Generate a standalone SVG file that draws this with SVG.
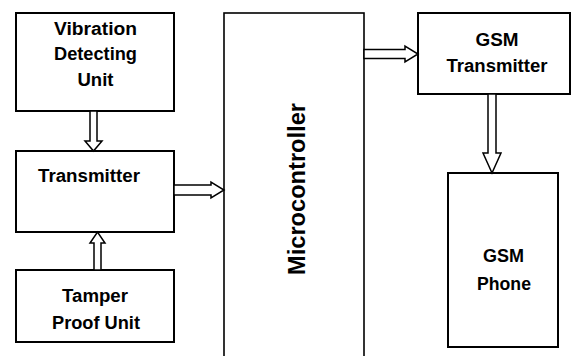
<svg xmlns="http://www.w3.org/2000/svg" width="572" height="356" viewBox="0 0 572 356">
<style>
.box{fill:#fff;stroke:#000;stroke-width:2}
.mc{fill:#fff;stroke:#000;stroke-width:1.6}
.arr{fill:#fff;stroke:#000;stroke-width:1.5;stroke-linejoin:miter}
text{font-family:"Liberation Sans",Arial,sans-serif;font-weight:bold;font-size:18px;fill:#000;text-anchor:middle}
.big{font-size:24px}
</style>
<rect width="572" height="356" fill="#fff"/>
<g id="vibration">
<rect class="box" x="16" y="13" width="158" height="98"/>
<text x="95.5" y="35" textLength="83" lengthAdjust="spacingAndGlyphs">Vibration</text>
<text x="95.5" y="60" textLength="83" lengthAdjust="spacingAndGlyphs">Detecting</text>
<text x="95.5" y="86" textLength="36" lengthAdjust="spacingAndGlyphs">Unit</text>
</g>
<g id="transmitter">
<rect class="box" x="16" y="151" width="158" height="81"/>
<text x="89" y="182" textLength="102" lengthAdjust="spacingAndGlyphs">Transmitter</text>
</g>
<g id="tamper">
<rect class="box" x="16" y="270" width="158" height="72"/>
<text x="95" y="302" textLength="66" lengthAdjust="spacingAndGlyphs">Tamper</text>
<text x="96" y="329" textLength="88" lengthAdjust="spacingAndGlyphs">Proof Unit</text>
</g>
<g id="microcontroller">
<rect class="mc" x="224" y="13" width="140" height="360"/>
<text class="big" transform="translate(305 189) rotate(-90)" x="0" y="0" textLength="172" lengthAdjust="spacingAndGlyphs">Microcontroller</text>
</g>
<g id="gsm-transmitter">
<rect class="box" x="418" y="13" width="152" height="81"/>
<text x="497" y="46" textLength="43" lengthAdjust="spacingAndGlyphs">GSM</text>
<text x="497" y="72" textLength="101" lengthAdjust="spacingAndGlyphs">Transmitter</text>
</g>
<g id="gsm-phone">
<rect class="box" x="448" y="173" width="110" height="174"/>
<text x="503.5" y="262" textLength="41" lengthAdjust="spacingAndGlyphs">GSM</text>
<text x="504" y="290" textLength="54" lengthAdjust="spacingAndGlyphs">Phone</text>
</g>
<g id="connectors">
<polygon class="arr" points="90,111 97,111 97,141 102,141 93.5,151 85,141 90,141"/>
<polygon class="arr" points="94,270 101,270 101,243 105,243 97.5,232 90,243 94,243"/>
<polygon class="arr" points="174,185 211,185 211,182 224,190 211,198 211,195 174,195"/>
<polygon class="arr" points="364,49.5 405,49.5 405,46 418,54 405,62 405,58.5 364,58.5"/>
<polygon class="arr" points="488,94 496,94 496,153 501,153 492,173 483,153 488,153"/>
</g>
</svg>
